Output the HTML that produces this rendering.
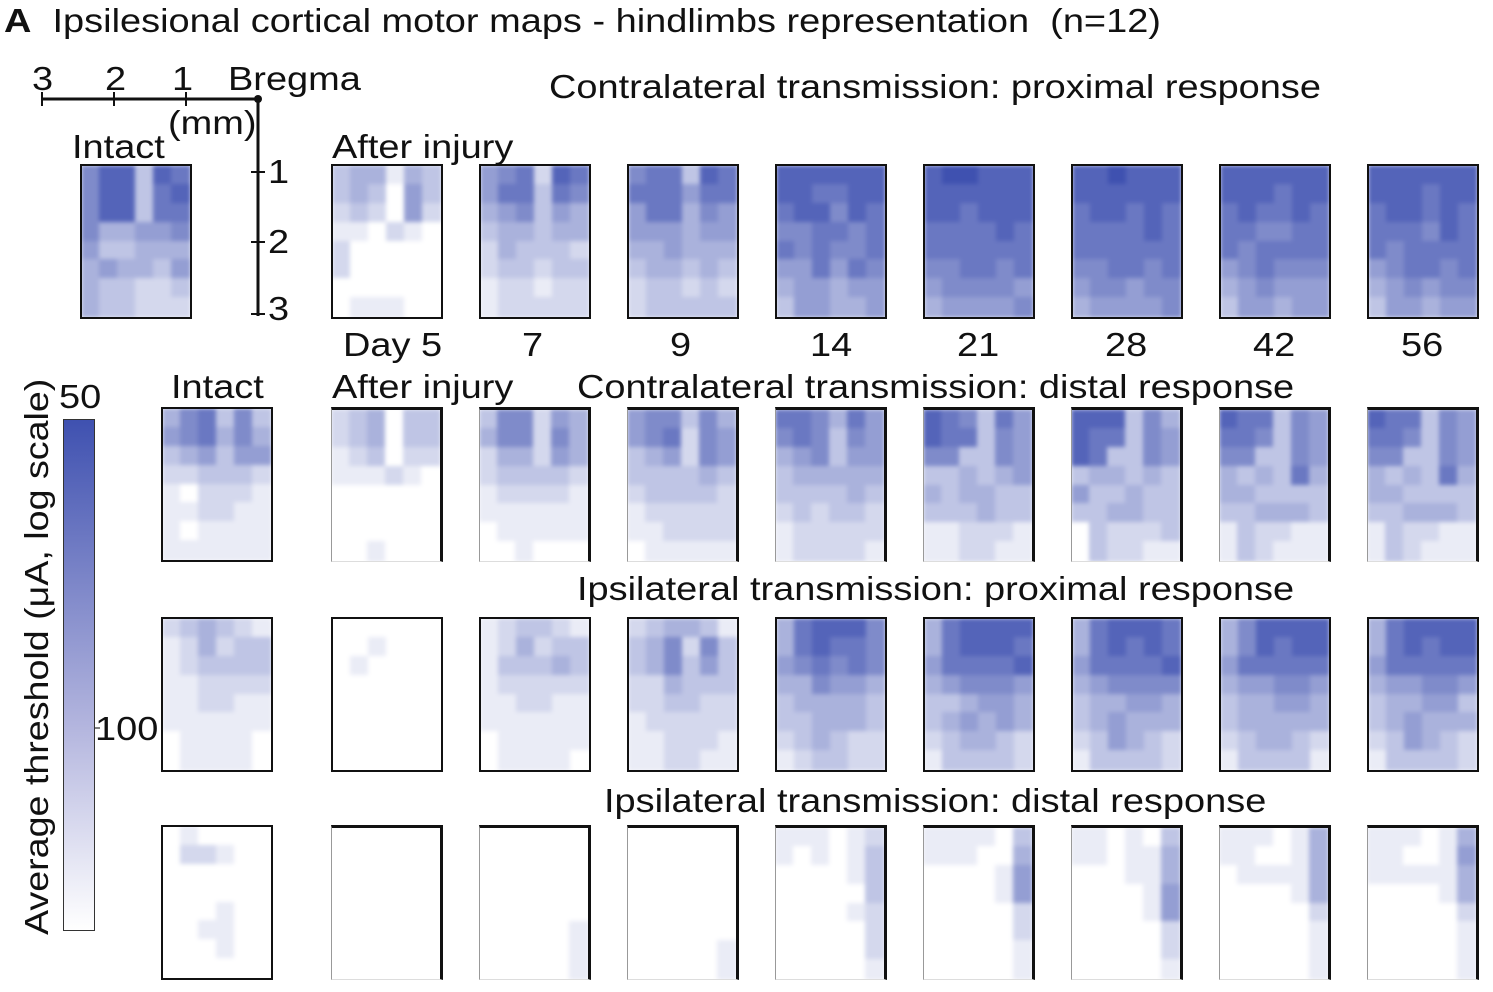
<!DOCTYPE html>
<html><head><meta charset="utf-8">
<style>
body{margin:0;background:#fff;width:1493px;height:992px;position:relative;overflow:hidden;font-family:"Liberation Sans",sans-serif;color:#111}
.t{position:absolute;white-space:nowrap;font-size:33px;line-height:1;transform-origin:0 0;transform:scaleX(1.15)}
.map{position:absolute;box-sizing:border-box;border:2px solid #111;overflow:hidden}
.map.open{border-top:3px solid #111;border-right:3px solid #111;border-left:1px solid #999;border-bottom:1px solid #ddd}
.inner{position:absolute;left:0;top:0;right:0;bottom:0;filter:blur(2px)}
.cell{position:absolute}
</style></head><body>
<div class="t" style="left:4px;top:4px;font-size:33px"><b>A</b>&nbsp; Ipsilesional cortical motor maps - hindlimbs representation&nbsp; (n=12)</div>
<svg style="position:absolute;left:0;top:0" width="1493" height="992">
<line x1="42" y1="99" x2="258" y2="99" stroke="#111" stroke-width="3"/>
<line x1="42" y1="92" x2="42" y2="106" stroke="#111" stroke-width="2"/>
<line x1="114" y1="92" x2="114" y2="106" stroke="#111" stroke-width="2"/>
<line x1="186" y1="92" x2="186" y2="106" stroke="#111" stroke-width="2"/>
<circle cx="258" cy="99" r="4" fill="#111"/>
<line x1="258" y1="99" x2="258" y2="316" stroke="#111" stroke-width="3"/>
<line x1="251" y1="172" x2="265" y2="172" stroke="#111" stroke-width="2"/>
<line x1="251" y1="242" x2="265" y2="242" stroke="#111" stroke-width="2"/>
<line x1="251" y1="314" x2="265" y2="314" stroke="#111" stroke-width="2"/>
<line x1="63" y1="728" x2="100" y2="728" stroke="#555" stroke-width="1.5"/>
</svg>
<div class="t" style="left:32px;top:62px">3</div><div class="t" style="left:105px;top:62px">2</div><div class="t" style="left:172px;top:62px">1</div>
<div class="t" style="left:228px;top:62px">Bregma</div>
<div class="t" style="left:168px;top:106px">(mm)</div>
<div class="t" style="left:268px;top:155px">1</div><div class="t" style="left:268px;top:225px">2</div><div class="t" style="left:268px;top:292px">3</div>
<div class="t" style="left:72px;top:130px">Intact</div>
<div class="t" style="left:332px;top:130px">After injury</div>
<div class="t" style="left:549px;top:70px">Contralateral transmission: proximal response</div>
<div class="t" style="left:171px;top:370px">Intact</div>
<div class="t" style="left:332px;top:370px">After injury</div>
<div class="t" style="left:577px;top:370px">Contralateral transmission: distal response</div>
<div class="t" style="left:577px;top:572px">Ipsilateral transmission: proximal response</div>
<div class="t" style="left:604px;top:784px">Ipsilateral transmission: distal response</div>
<div class="t" style="left:343px;top:328px">Day 5</div>
<div class="t" style="left:522px;top:328px">7</div><div class="t" style="left:670px;top:328px">9</div>
<div class="t" style="left:810px;top:328px">14</div><div class="t" style="left:957px;top:328px">21</div>
<div class="t" style="left:1105px;top:328px">28</div><div class="t" style="left:1253px;top:328px">42</div><div class="t" style="left:1401px;top:328px">56</div>
<div style="position:absolute;left:63px;top:419px;width:32px;height:512px;box-sizing:border-box;border:1px solid #333;background:linear-gradient(#3f51b0,#b3b5de 60%,#fff)"></div>
<div class="t" style="left:59px;top:380px">50</div>
<div class="t" style="left:95px;top:712px">100</div>
<div class="t" style="left:20px;top:935px;transform:rotate(-90deg) scaleX(1.14);font-size:33px">Average threshold (μA, log scale)</div>
<div id="maps"></div>
<script>
// intensity 0 (white, ~100+ μA) .. 9 (dark, 50 μA); each map: 8 rows x 6 cols
const conditions=["Intact","After injury","Day 7","Day 9","Day 14","Day 21","Day 28","Day 42","Day 56"];
const contraProximal=[
["688387","688378","688377","644556","533444","454435","433223","433222"],
["344143","343053","232052","110210","200000","200000","000000","011100"],
["567287","577376","456354","344344","243332","233233","122122","122222"],
["677387","777577","577465","555455","445444","344343","233232","233333"],
["888888","887788","788687","667767","767667","557576","455455","355445"],
["899888","888888","887888","777787","777777","667767","566665","455556"],
["889888","888888","788787","777787","777777","667767","566566","455556"],
["888888","888788","787787","776677","767777","567666","456555","355455"],
["888888","888788","788787","777687","767777","567767","456566","355455"]];
const contraDistal=[
["467363","567464","345355","223332","102221","112211","101111","111111"],
["234033","234033","123022","111210","000000","000000","000000","001000"],
["366254","466264","244254","233332","122221","111111","011111","001000"],
["566364","567265","345265","333343","233332","122222","112222","011111"],
["776475","676365","456355","344444","333343","232332","122222","122221"],
["876375","877365","663365","334345","434433","333433","112221","112211"],
["888364","877365","873365","344343","533433","334433","032223","032211"],
["877365","776365","663365","434374","443333","334443","132211","132111"],
["877365","776365","663365","434374","443333","334443","132211","132111"]];
const ipsiProximal=[
["234321","124233","123333","112222","112211","111111","011110","011110"],
["000000","001000","010000","000000","000000","000000","000000","000000"],
["123321","124233","133343","122222","112211","111111","011111","011110"],
["234431","346263","346353","224333","223322","122222","112221","112211"],
["478886","478776","567676","446554","344443","334443","234322","123322"],
["478888","478887","577778","456665","334554","345454","234432","133332"],
["478887","478787","577778","456666","344554","345444","235432","133332"],
["468888","468788","577777","455665","344554","344444","234432","133331"],
["478888","478788","577777","455665","344553","345444","235432","133332"]];
const ipsiDistal=[
["010000","022100","000000","000000","000100","001100","000100","000000"],
["000000","000000","000000","000000","000000","000000","000000","000000"],
["000000","000000","000000","000000","000000","000001","000001","000001"],
["000000","000000","000000","000000","000000","000000","000001","000001"],
["111012","101013","000013","000003","000012","000002","000002","000001"],
["111103","111004","000015","000015","000002","000002","000001","000001"],
["110103","110114","000114","000015","000015","000002","000002","000001"],
["111014","110014","011114","000014","000002","000001","000001","000001"],
["111014","110015","111114","000014","000002","000001","000001","000001"]];
</script>
<script>
const rowsY=[164,407,617,825];
const colX=[331,479,627,775,923,1071,1219,1367];
const series=[contraProximal,contraDistal,ipsiProximal,ipsiDistal];
const rowNames=['contra-proximal','contra-distal','ipsi-proximal','ipsi-distal'];
const W=112,H=155;
function color(v){const t=v/9;const r=Math.round(255+(63-255)*t),g=Math.round(255+(81-255)*t),b=Math.round(255+(176-255)*t);return `rgb(${r},${g},${b})`;}
const host=document.getElementById('maps');
series.forEach((maps,ri)=>{
  maps.forEach((grid,mi)=>{
    const m=document.createElement('div');
    m.className='map'+((ri===1||ri===3)&&mi>0?' open':'');
    
    
    const x=mi===0?(ri===0?80:161):colX[mi-1];
    m.style.left=x+'px';m.style.top=rowsY[ri]+'px';m.style.width=W+'px';m.style.height=H+'px';
    const inner=document.createElement('div');
    inner.className='inner';
    
    
    const iw=W-4,ih=H-4;
    const nr=grid.length,nc=grid[0].length;
    grid.forEach((row,r)=>{
      for(let c=0;c<nc;c++){
        const d=document.createElement('div');
        d.className='cell';
        
        
        d.style.left=(c*iw/nc-1)+'px';d.style.top=(r*ih/nr-1)+'px';
        d.style.width=(iw/nc+2)+'px';d.style.height=(ih/nr+2)+'px';
        d.style.background=color(+row[c]);
        inner.appendChild(d);
      }
    });
    m.appendChild(inner);
    host.appendChild(m);
  });
});
</script>
</body></html>
